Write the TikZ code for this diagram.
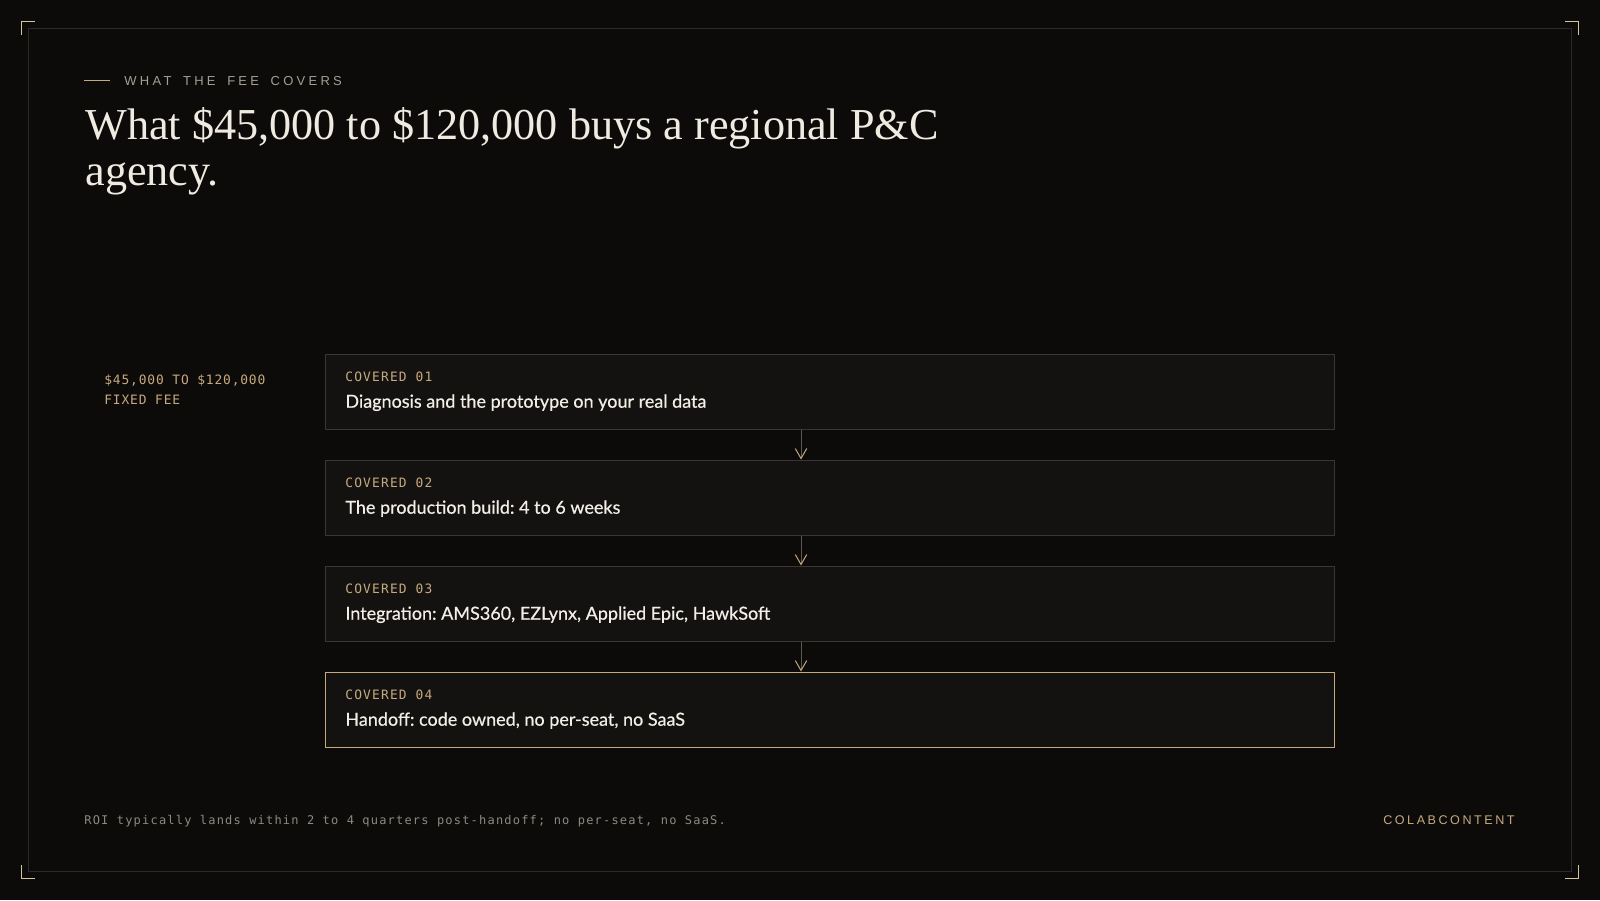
\documentclass[tikz,border=0pt]{standalone}
\usepackage{fontspec}
\usetikzlibrary{arrows.meta}
\setmainfont{Liberation Serif}
\newfontfamily\bodyfont[FakeBold=0.5]{Lato}
\newfontfamily\tagfont[LetterSpace=9]{DejaVu Sans Mono}
\newfontfamily\feefont[LetterSpace=6.5]{DejaVu Sans Mono}
\newfontfamily\notefont[LetterSpace=10]{DejaVu Sans Mono}
\newfontfamily\eyefont[LetterSpace=25,WordSpace=1.7]{Liberation Sans}
\newfontfamily\brandfont[LetterSpace=20]{Liberation Sans}

\definecolor{pagebg}{HTML}{0C0B0A}
\definecolor{frameline}{HTML}{2C2A27}
\definecolor{cornergold}{HTML}{D4C4A0}
\definecolor{gold}{HTML}{C6A97E}
\definecolor{greytext}{HTML}{A59E92}
\definecolor{titletext}{HTML}{F0EBE1}
\definecolor{bodytext}{HTML}{F3EFE8}
\definecolor{boxfill}{HTML}{141210}
\definecolor{boxline}{HTML}{3A3733}
\definecolor{flowline}{HTML}{5E5850}
\definecolor{notetext}{HTML}{8E8980}

\begin{document}
\frenchspacing
\begin{tikzpicture}[x=0.5pt,y=0.5pt,yscale=-1,xscale=1,
  covbox/.style={draw=boxline,fill=boxfill,line width=0.5pt,minimum width=504.5pt,minimum height=37.5pt,anchor=north west,inner sep=0pt},
  covtag/.style={anchor=base west,inner sep=0pt,text=gold,font=\tagfont\fontsize{6.45}{8}\selectfont},
  covtext/.style={anchor=base west,inner sep=0pt,text=bodytext,font=\bodyfont\fontsize{9}{11}\selectfont},
  corner/.style={draw=cornergold,line width=0.6pt},
  flow/.style={draw=flowline,line width=0.5pt,-{Straight Barb[length=5pt,width=5.75pt,color=gold]}}]
\useasboundingbox (0,0) rectangle (1600,900);

%Shape: Rectangle [page]
\fill [pagebg] (0,0) rectangle (1600,900);
%Shape: Rectangle [frame]
\draw [frameline,line width=0.5pt] (28.5,28.5) rectangle (1571.5,871.5);
%Shape: Corner marks
\draw [corner] (21.3,34.7) -- (21.3,21.3) -- (34.7,21.3);
\draw [corner] (1565.3,21.3) -- (1578.7,21.3) -- (1578.7,34.7);
\draw [corner] (21.3,865.3) -- (21.3,878.7) -- (34.7,878.7);
\draw [corner] (1565.3,878.7) -- (1578.7,878.7) -- (1578.7,865.3);

%Straight Lines [eyebrow rule]
\draw [gold,line width=0.5pt] (84,80.3) -- (110,80.3);
% Text Node
\draw (124,85.3) node [anchor=base west][inner sep=0pt][text=greytext,font=\eyefont\fontsize{6.5}{8}\selectfont] (eyebrow) {WHAT THE FEE COVERS};
% Text Node
\draw (85,139.3) node [anchor=base west][inner sep=0pt][text=titletext,font=\fontsize{22.1}{22.5}\selectfont] (title1) {What \$45,000 to \$120,000 buys a regional P\&C};
% Text Node
\draw (85,185) node [anchor=base west][inner sep=0pt][text=titletext,font=\fontsize{22.1}{22.5}\selectfont] (title2) {agency.};

% Text Node
\draw (104,384.3) node [anchor=base west][inner sep=0pt][text=gold,font=\feefont\fontsize{6.45}{8}\selectfont] (fee1) {\$45,000 TO \$120,000};
% Text Node
\draw (104,404.3) node [anchor=base west][inner sep=0pt][text=gold,font=\feefont\fontsize{6.45}{8}\selectfont] (fee2) {FIXED FEE};

%Shape: Rectangle [covered boxes]
\node [covbox] (cov1) at (324.5,353.5) {};
\node [covbox] (cov2) at (324.5,459.5) {};
\node [covbox] (cov3) at (324.5,565.5) {};
\node [covbox,draw=gold] (cov4) at (324.5,671.5) {};

% Text Node
\draw (345,381.7) node [covtag] (tag1) {COVERED 01};
\draw (345,407.7) node [covtext] (txt1) {Diagnosis and the prototype on your real data};
% Text Node
\draw (345,487.7) node [covtag] (tag2) {COVERED 02};
\draw (345,513.7) node [covtext] (txt2) {The production build: 4 to 6 weeks};
% Text Node
\draw (345,593.7) node [covtag] (tag3) {COVERED 03};
\draw (345,619.7) node [covtext] (txt3) {Integration: AMS360, EZLynx, Applied Epic, HawkSoft};
% Text Node
\draw (345,699.7) node [covtag] (tag4) {COVERED 04};
\draw (345,725.7) node [covtext] (txt4) {Handoff: code owned, no per-seat, no SaaS};

%Straight Lines [flow]
\coordinate (axis) at (801,0);
\draw [flow] (cov1.south -| axis) -- (cov2.north -| axis);
\draw [flow] (cov2.south -| axis) -- (cov3.north -| axis);
\draw [flow] (cov3.south -| axis) -- (cov4.north -| axis);

% Text Node
\draw (84,824.7) node [anchor=base west][inner sep=0pt][text=notetext,font=\notefont\fontsize{6}{8}\selectfont] (note) {ROI typically lands within 2 to 4 quarters post-handoff; no per-seat, no SaaS.};
% Text Node
\draw (1515,824) node [anchor=base east][inner sep=0pt][text=gold,font=\brandfont\fontsize{6.3}{8}\selectfont] (brand) {COLABCONTENT};

\end{tikzpicture}
\end{document}
